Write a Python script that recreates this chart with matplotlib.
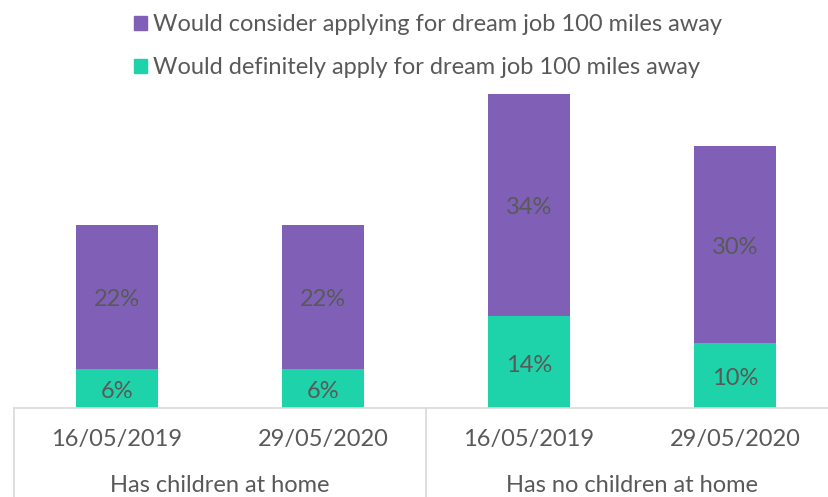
import matplotlib
matplotlib.use("Agg")
import matplotlib.pyplot as plt
import matplotlib.transforms as mtransforms
from matplotlib.lines import Line2D
from matplotlib.patches import Patch

plt.rcParams['font.family'] = ['Lato', 'DejaVu Sans']

dates = ["16/05/2019", "29/05/2020", "16/05/2019", "29/05/2020"]
groups = ["Has children at home", "Has no children at home"]
definitely = [6, 6, 14, 10]
consider = [22, 22, 34, 30]
series_names = ["Would consider applying for dream job 100 miles away",
                "Would definitely apply for dream job 100 miles away"]

purple = "#7F60B6"
green = "#1ED3A9"
text_col = "#595959"
grid_col = "#D9D9D9"

W, H = 829, 497
fig = plt.figure(figsize=(W / 100, H / 100), dpi=100)
left_px, right_px = 14, 838
base_px = 408
ymax = 50
ppu = 6.55
ax = fig.add_axes([left_px / W, (H - base_px) / H, (right_px - left_px) / W, ymax * ppu / H])

x = list(range(len(dates)))
bw = 82 / 206
ax.bar(x, definitely, width=bw, color=green, zorder=2)
ax.bar(x, consider, width=bw, bottom=definitely, color=purple, zorder=2)

off = -3 / ppu
for i in x:
    ax.text(i, definitely[i] / 2 + off, f"{definitely[i]}%", ha="center", va="center",
            fontsize=17, color=text_col)
    ax.text(i, definitely[i] + consider[i] / 2 + off, f"{consider[i]}%", ha="center", va="center",
            fontsize=17, color=text_col)

ax.set_xlim(-0.5, len(dates) - 0.5)
ax.set_ylim(0, ymax)
for s in ["top", "right", "left"]:
    ax.spines[s].set_visible(False)
ax.spines["bottom"].set_color(grid_col)
ax.spines["bottom"].set_linewidth(1.2)
ax.set_yticks([])
ax.set_xticks(x)
ax.set_xticklabels(dates, fontsize=17, color=text_col)
ax.tick_params(axis="x", length=0, pad=15)

trans = mtransforms.blended_transform_factory(ax.transData, ax.transAxes)
bottom_ax = -(H - base_px + 5) / (ymax * ppu)
for xv in [-0.5, 1.5, 3.5]:
    ax.add_line(Line2D([xv, xv], [0, bottom_ax], transform=trans, color=grid_col,
                       lw=1.2, clip_on=False))

group_y = -(485 - base_px) / (ymax * ppu)
for gi, g in enumerate(groups):
    ax.text(gi * 2 + 0.5, group_y, g, transform=trans, ha="center", va="center",
            fontsize=17, color=text_col)

handles = [Patch(color=purple), Patch(color=green)]
fig.legend(handles, series_names, loc="upper left", bbox_to_anchor=(120 / W, 1.0),
           frameon=False, fontsize=17, labelcolor=text_col, handlelength=0.55,
           handleheight=0.55, handletextpad=0.25, labelspacing=0.93, borderaxespad=0.2)

fig.savefig("out.png", dpi=100)
